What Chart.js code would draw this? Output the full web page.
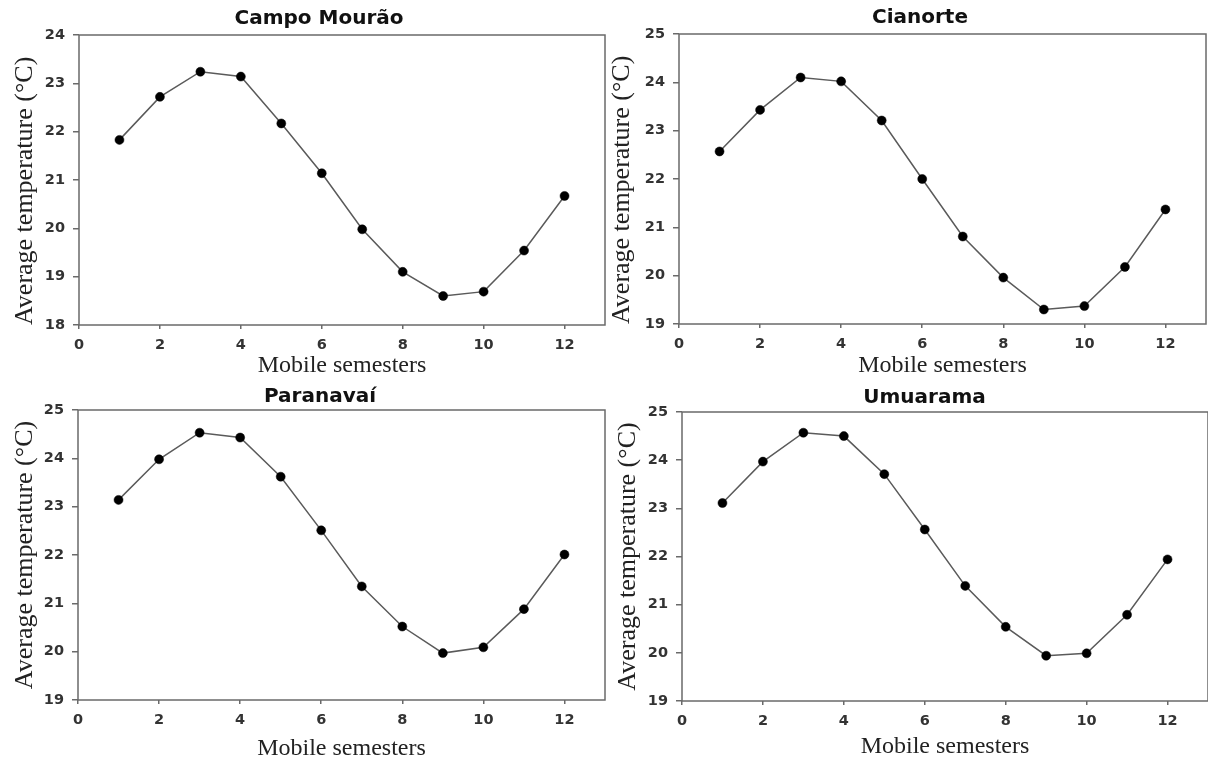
<!DOCTYPE html>
<html>
<head>
<meta charset="utf-8">
<script src="https://cdn.jsdelivr.net/npm/chart.js@4/dist/chart.umd.min.js"></script>
<style>
  html, body { margin: 0; padding: 0; background: #ffffff; width: 1208px; height: 763px; overflow: hidden; }
  canvas { position: absolute; }
</style>
</head>
<body>
<canvas id="c1"></canvas>
<canvas id="c2"></canvas>
<canvas id="c3"></canvas>
<canvas id="c4"></canvas>
<script>
// ---- data ----
const semesters = [1, 2, 3, 4, 5, 6, 7, 8, 9, 10, 11, 12];
const campoMourao = [21.83, 22.72, 23.24, 23.14, 22.17, 21.14, 19.98, 19.10, 18.60, 18.69, 19.54, 20.67];
const cianorte    = [22.57, 23.43, 24.10, 24.02, 23.21, 22.00, 20.81, 19.96, 19.30, 19.37, 20.18, 21.37];
const paranavai   = [23.14, 23.98, 24.53, 24.43, 23.62, 22.51, 21.35, 20.52, 19.97, 20.09, 20.88, 22.01];
const umuarama    = [23.11, 23.97, 24.57, 24.50, 23.71, 22.56, 21.39, 20.54, 19.94, 19.99, 20.79, 21.94];
const panelTitles = ['Campo Mourão', 'Cianorte', 'Paranavaí', 'Umuarama'];
const yRanges = [[18, 24], [19, 25], [19, 25], [19, 25]];
const xRange = [0, 13];
const xTitle = 'Mobile semesters';
const yTitle = 'Average temperature (°C)';

// ---- layout (per panel) ----
const layouts = [
  { id: 'c1', left: 0,   top: 0,   w: 638, h: 380, yw: 79, rw: 33, xh: 55, tPadT: 6.7, tPadB: 4.3, yTitlePad: 10,  yAlign: 'start',  xTitlePad: 0 },
  { id: 'c2', left: 604, top: 0,   w: 632, h: 380, yw: 75, rw: 30, xh: 56, tPadT: 5.5, tPadB: 4.5, yTitlePad: 2.5, yAlign: 'start',  xTitlePad: 0 },
  { id: 'c3', left: 0,   top: 380, w: 640, h: 383, yw: 78, rw: 35, xh: 63, tPadT: 4.5, tPadB: 1.5, yTitlePad: 10,  yAlign: 'center', xTitlePad: 0 },
  { id: 'c4', left: 604, top: 380, w: 641, h: 383, yw: 78, rw: 37, xh: 62, tPadT: 6,   tPadB: 2,   yTitlePad: 8.5, yAlign: 'center', xTitlePad: 1.5 }
];
const seriesList = [campoMourao, cianorte, paranavai, umuarama];

const framePlugin = {
  id: 'frame',
  beforeDatasetsDraw(chart) {
    const a = chart.chartArea, ctx = chart.ctx;
    ctx.save();
    ctx.strokeStyle = '#6a6a6a';
    ctx.lineWidth = 1.5;
    ctx.strokeRect(a.left, a.top, a.right - a.left, a.bottom - a.top);
    ctx.restore();
  }
};

const tickFont = { family: '"DejaVu Sans", sans-serif', size: 14.5, weight: 'bold' };

layouts.forEach((L, i) => {
  const cv = document.getElementById(L.id);
  cv.width = L.w; cv.height = L.h;
  cv.style.left = L.left + 'px'; cv.style.top = L.top + 'px';
  cv.style.width = L.w + 'px'; cv.style.height = L.h + 'px';
  const values = seriesList[i];
  new Chart(cv.getContext('2d'), {
    type: 'line',
    data: {
      datasets: [{
        data: semesters.map((s, k) => ({ x: s, y: values[k] })),
        borderColor: '#5a5a5a',
        borderWidth: 1.5,
        pointRadius: 4.5,
        pointBackgroundColor: '#000000',
        pointBorderColor: '#000000',
        pointBorderWidth: 0.5,
        tension: 0,
        fill: false
      }]
    },
    options: {
      responsive: false,
      devicePixelRatio: 1,
      animation: false,
      layout: { padding: 0 },
      plugins: {
        legend: { display: false },
        tooltip: { enabled: false },
        title: {
          display: true,
          text: panelTitles[i],
          color: '#111111',
          font: { family: '"DejaVu Sans", sans-serif', size: 20, weight: 'bold' },
          padding: { top: L.tPadT, bottom: L.tPadB }
        }
      },
      scales: {
        x: {
          type: 'linear',
          position: 'bottom',
          min: xRange[0], max: xRange[1],
          ticks: { stepSize: 2, includeBounds: false, color: '#333333', font: tickFont, padding: 8, maxRotation: 0 },
          grid: { display: true, drawOnChartArea: false, drawTicks: true, tickLength: 4, color: '#6a6a6a', lineWidth: 1.5 },
          border: { display: false },
          title: { display: true, text: xTitle, color: '#222222',
                   font: { family: '"Liberation Serif", "Times New Roman", serif', size: 24 },
                   padding: { top: 0, bottom: L.xTitlePad } },
          afterFit(scale) { scale.height = L.xh; }
        },
        y: {
          type: 'linear',
          position: 'left',
          min: yRanges[i][0], max: yRanges[i][1],
          ticks: { stepSize: 1, color: '#333333', font: tickFont, padding: 8 },
          grid: { display: true, drawOnChartArea: false, drawTicks: true, tickLength: 6, color: '#6a6a6a', lineWidth: 1.5 },
          border: { display: false },
          title: { display: true, text: yTitle, color: '#222222', align: L.yAlign,
                   font: { family: '"Liberation Serif", "Times New Roman", serif', size: 26 },
                   padding: { top: L.yTitlePad, bottom: 0 } },
          afterFit(scale) { scale.width = L.yw; }
        },
        yPad: {
          type: 'linear',
          position: 'right',
          display: true,
          ticks: { display: false },
          grid: { display: false },
          border: { display: false },
          afterFit(scale) { scale.width = L.rw; }
        }
      }
    },
    plugins: [framePlugin]
  });
});
</script>
</body>
</html>
